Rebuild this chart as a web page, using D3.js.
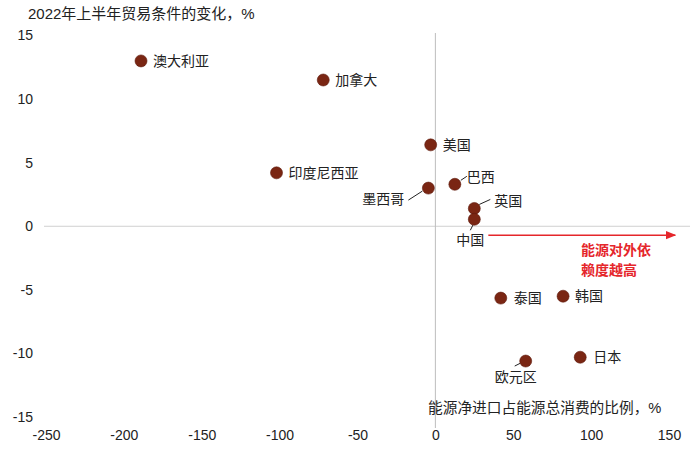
<!DOCTYPE html>
<html><head><meta charset="utf-8">
<script src="https://cdn.jsdelivr.net/npm/d3@7"></script>
<style>
body{margin:0;background:#fff;}
text{font-family:"Liberation Sans","Noto Sans CJK SC",Arial,sans-serif;}
</style></head>
<body><svg id="c" width="698" height="464"></svg>
<script>
const names = ["澳大利亚","加拿大","美国","印度尼西亚","墨西哥","巴西","英国","中国","泰国","韩国","日本","欧元区"];
const xVals = [-189,-72,-3,-102,-4.5,12.5,25,25,42,82,93,58];
const yVals = [13.0,11.5,6.4,4.2,3.0,3.3,1.4,0.55,-5.65,-5.5,-10.3,-10.6];
const xTicks = [-250,-200,-150,-100,-50,0,50,100,150];
const yTicks = [15,10,5,0,-5,-10,-15];
const title = "2022年上半年贸易条件的变化，%";
const xTitle = "能源净进口占能源总消费的比例，%";
const arrowText = ["能源对外依","赖度越高"];
// label placement: [dx, dy, anchor, leader]
const labelPos = {
 "澳大利亚":[12,5,"start",false],
 "加拿大":[12,5,"start",false],
 "美国":[12,5,"start",false],
 "印度尼西亚":[12,5,"start",false],
 "墨西哥":[-24,16,"end",true],
 "巴西":[12,-2,"start",true],
 "英国":[20,-2,"start",true],
 "中国":[-4,26,"middle",true],
 "泰国":[13,5,"start",false],
 "韩国":[12,5,"start",false],
 "日本":[13,5,"start",false],
 "欧元区":[-10,21,"middle",true]
};
const data = names.map((n,i)=>({name:n,x:xVals[i],y:yVals[i]}));

const svg = d3.select("#c");
const x = d3.scaleLinear().domain([-250,150]).range([46,669]);
const y = d3.scaleLinear().domain([-15,15]).range([417,35.5]);
const fmt = d => String(d);

// zero lines
svg.append("line").attr("x1",44).attr("x2",690).attr("y1",y(0)).attr("y2",y(0))
  .attr("stroke","#d0d0d0").attr("stroke-width",1);
svg.append("line").attr("x1",x(0)).attr("x2",x(0)).attr("y1",33).attr("y2",428)
  .attr("stroke","#bdbdbd").attr("stroke-width",1);

// y axis labels
const ya = svg.append("g").attr("transform","translate(33,0)")
  .call(d3.axisLeft(y).tickValues(yTicks).tickSize(0).tickPadding(0).tickFormat(fmt));
ya.select(".domain").remove();
ya.selectAll("text").attr("font-size",14).attr("fill","#222").attr("font-family","Liberation Sans, Arial, sans-serif");

// x axis labels
const xa = svg.append("g").attr("transform","translate(0,428)")
  .call(d3.axisBottom(x).tickValues(xTicks).tickSize(0).tickPadding(2).tickFormat(fmt));
xa.select(".domain").remove();
xa.selectAll("text").attr("font-size",14).attr("fill","#222").attr("font-family","Liberation Sans, Arial, sans-serif");

// titles
svg.append("text").attr("x",28).attr("y",19).attr("font-size",15).attr("fill","#222").text(title);
svg.append("text").attr("x",428).attr("y",413).attr("font-size",14.7).attr("fill","#222").text(xTitle);

// arrow
svg.append("defs").append("marker").attr("id","ah").attr("viewBox","0 0 10 10")
  .attr("refX",9).attr("refY",5).attr("markerWidth",7).attr("markerHeight",7).attr("orient","auto")
  .append("path").attr("d","M0,1 L10,5 L0,9 Z").attr("fill","#e5262b");
svg.append("line").attr("x1",x(34)).attr("x2",x(154)).attr("y1",y(-0.7)).attr("y2",y(-0.7))
  .attr("stroke","#e5262b").attr("stroke-width",1.5).attr("marker-end","url(#ah)");
svg.selectAll(".at").data(arrowText).join("text")
  .attr("x",x(93.5)).attr("y",(d,i)=>y(-2.3)+i*20).attr("font-size",14).attr("font-weight","bold")
  .attr("fill","#e5262b").text(d=>d);

// leaders
const lead = svg.append("g");
data.forEach(d=>{
  const p = labelPos[d.name];
  if(!p[3]) return;
  const cx=x(d.x), cy=y(d.y);
  let x1,y1,x2,y2;
  if(d.name==="墨西哥"){x1=cx-6;y1=cy+3;x2=cx-20;y2=cy+12;}
  else if(d.name==="巴西"){x1=cx+6;y1=cy-4;x2=cx+12;y2=cy-8;}
  else if(d.name==="英国"){x1=cx+5;y1=cy-4;x2=cx+16;y2=cy-9;}
  else if(d.name==="中国"){x1=cx-1;y1=cy+5;x2=cx-4;y2=cy+11;}
  else {x1=cx-5;y1=cy+2;x2=cx-11;y2=cy+5;}
  lead.append("line").attr("x1",x1).attr("y1",y1).attr("x2",x2).attr("y2",y2)
    .attr("stroke","#222").attr("stroke-width",1);
});

// points
svg.selectAll(".pt").data(data).join("circle")
  .attr("cx",d=>x(d.x)).attr("cy",d=>y(d.y)).attr("r",6)
  .attr("fill","#7a2613").attr("stroke","#5e1a0c").attr("stroke-width",0.6);

// labels
svg.selectAll(".lb").data(data).join("text")
  .attr("x",d=>x(d.x)+labelPos[d.name][0]).attr("y",d=>y(d.y)+labelPos[d.name][1])
  .attr("text-anchor",d=>labelPos[d.name][2]).attr("font-size",14).attr("fill","#222")
  .text(d=>d.name);
</script></body></html>
